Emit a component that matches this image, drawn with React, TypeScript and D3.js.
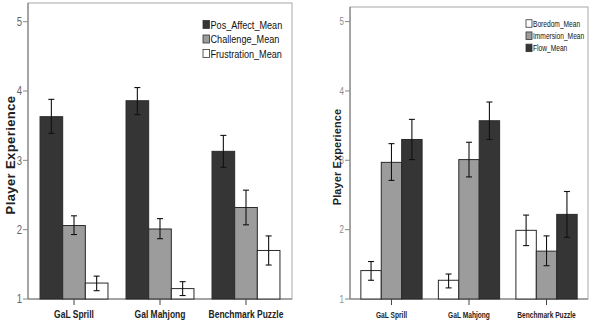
import * as d3 from "d3";
import type { ReactNode } from "react";

const games = ["GaL Sprill", "Gal Mahjong", "Benchmark Puzzle"];
const gamesRight = ["GaL Sprill", "GaL Mahjong", "Benchmark Puzzle"];

// left panel: affect / challenge / frustration
const leftSeries = ["Pos_Affect_Mean", "Challenge_Mean", "Frustration_Mean"];
const posAffect = [3.63, 3.86, 3.13];
const posAffectLo = [3.39, 3.66, 2.9];
const posAffectHi = [3.88, 4.05, 3.36];
const challenge = [2.06, 2.01, 2.32];
const challengeLo = [1.93, 1.87, 2.07];
const challengeHi = [2.2, 2.16, 2.57];
const frustration = [1.23, 1.15, 1.7];
const frustrationLo = [1.12, 1.05, 1.49];
const frustrationHi = [1.33, 1.25, 1.91];

// right panel: boredom / immersion / flow
const rightSeries = ["Boredom_Mean", "Immersion_Mean", "Flow_Mean"];
const boredom = [1.41, 1.27, 1.99];
const boredomLo = [1.27, 1.16, 1.77];
const boredomHi = [1.54, 1.36, 2.21];
const immersion = [2.97, 3.01, 1.69];
const immersionLo = [2.71, 2.76, 1.48];
const immersionHi = [3.24, 3.26, 1.91];
const flow = [3.3, 3.57, 2.22];
const flowLo = [3.01, 3.3, 1.89];
const flowHi = [3.59, 3.84, 2.55];

const yTicks = [1, 2, 3, 4, 5];

const DARK = "#353535";
const GREY = "#9c9c9c";
const WHITE = "#ffffff";

const sans = "'Liberation Sans', Arial, sans-serif";
const SQUEEZE = 0.8; // no condensed face installed, so squeeze Liberation Sans

interface NarrowProps {
  x: number;
  y: number;
  size: number;
  anchor?: "start" | "middle" | "end";
  bold?: boolean;
  fill?: string;
  dy?: string;
  children: ReactNode;
}

function NarrowText({ x, y, size, anchor = "start", bold, fill = "#111", dy, children }: NarrowProps) {
  return (
    <text
      transform={`translate(${x},${y}) scale(${SQUEEZE},1)`}
      dy={dy}
      textAnchor={anchor}
      fontSize={size}
      fontWeight={bold ? "bold" : "normal"}
      fill={fill}
      fontFamily={sans}
    >
      {children}
    </text>
  );
}

interface Series {
  name: string;
  fill: string;
  mean: number[];
  lo: number[];
  hi: number[];
}

interface PanelProps {
  cats: string[];
  series: Series[];
  left: number;
  right: number;
  top: number;
  yMax: number;
  tickFont: number;
  tickColor: string;
  catFont: number;
  titleFont: number;
  titleX: number;
  titleSpacing: number;
  legendX: number;
  legendY: number;
  legendStep: number;
  legendFont: number;
  swatchW: number;
  swatchH: number;
  capW: number;
}

function Panel(p: PanelProps) {
  const bottom = 299;
  const y = d3.scaleLinear().domain([1, p.yMax]).range([bottom, p.top]);
  const x0 = d3.scaleBand<string>().domain(p.cats).range([p.left, p.right]).paddingInner(0.21).paddingOuter(0.14);
  const x1 = d3.scaleBand<string>().domain(p.series.map((s) => s.name)).range([0, x0.bandwidth()]);

  return (
    <g>
      {/* frame */}
      <rect x={p.left} y={p.top} width={p.right - p.left} height={bottom - p.top} fill="none" stroke="#a8a8a8" strokeWidth={1} />
      <line x1={p.left} x2={p.left} y1={p.top} y2={bottom} stroke="#777" />
      <line x1={p.left} x2={p.right} y1={bottom} y2={bottom} stroke="#777" />

      {/* y axis */}
      {yTicks.map((t) => (
        <g key={t}>
          <line x1={p.left - 5} x2={p.left} y1={y(t)} y2={y(t)} stroke="#888" />
          <NarrowText x={p.left - 6} y={y(t)} dy="0.36em" anchor="end" size={p.tickFont} fill={p.tickColor}>
            {t}
          </NarrowText>
        </g>
      ))}
      <text
        transform={`translate(${p.titleX},${(p.top + bottom) / 2 + 4}) rotate(-90)`}
        textAnchor="middle"
        fontSize={p.titleFont}
        fontWeight="bold"
        letterSpacing={p.titleSpacing}
        fill="#222"
        fontFamily={sans}
      >
        Player Experience
      </text>

      {/* bars */}
      {p.cats.map((c, i) => (
        <g key={c} transform={`translate(${x0(c)},0)`}>
          {p.series.map((s) => (
            <rect
              key={s.name}
              x={x1(s.name)}
              y={y(s.mean[i])}
              width={x1.bandwidth()}
              height={bottom - y(s.mean[i])}
              fill={s.fill}
              stroke="#2a2a2a"
              strokeWidth={1}
            />
          ))}
          {p.series.map((s) => {
            const cx = (x1(s.name) ?? 0) + x1.bandwidth() / 2;
            return (
              <g key={s.name + "-err"} stroke="#111" strokeWidth={1.1}>
                <line x1={cx} x2={cx} y1={y(s.lo[i])} y2={y(s.hi[i])} />
                <line x1={cx - p.capW / 2} x2={cx + p.capW / 2} y1={y(s.lo[i])} y2={y(s.lo[i])} />
                <line x1={cx - p.capW / 2} x2={cx + p.capW / 2} y1={y(s.hi[i])} y2={y(s.hi[i])} />
              </g>
            );
          })}
        </g>
      ))}

      {/* x axis */}
      {p.cats.map((c) => {
        const cx = (x0(c) ?? 0) + x0.bandwidth() / 2;
        return (
          <g key={c + "-tick"}>
            <line x1={cx} x2={cx} y1={bottom} y2={bottom + 6} stroke="#444" />
            <NarrowText x={cx} y={bottom + 19} anchor="middle" size={p.catFont} bold fill="#222">
              {c}
            </NarrowText>
          </g>
        );
      })}

      {/* legend */}
      {p.series.map((s, i) => {
        const ly = p.legendY + i * p.legendStep;
        return (
          <g key={s.name + "-leg"}>
            <rect x={p.legendX} y={ly - p.swatchH / 2} width={p.swatchW} height={p.swatchH} fill={s.fill} stroke="#333" strokeWidth={0.8} />
            <NarrowText x={p.legendX + p.swatchW + 1} y={ly} dy="0.36em" size={p.legendFont}>
              {s.name}
            </NarrowText>
          </g>
        );
      })}
    </g>
  );
}

export default function App() {
  const leftData: Series[] = [
    { name: leftSeries[0], fill: DARK, mean: posAffect, lo: posAffectLo, hi: posAffectHi },
    { name: leftSeries[1], fill: GREY, mean: challenge, lo: challengeLo, hi: challengeHi },
    { name: leftSeries[2], fill: WHITE, mean: frustration, lo: frustrationLo, hi: frustrationHi },
  ];
  const rightData: Series[] = [
    { name: rightSeries[0], fill: WHITE, mean: boredom, lo: boredomLo, hi: boredomHi },
    { name: rightSeries[1], fill: GREY, mean: immersion, lo: immersionLo, hi: immersionHi },
    { name: rightSeries[2], fill: DARK, mean: flow, lo: flowLo, hi: flowHi },
  ];

  return (
    <div style={{ position: "fixed", left: 0, top: 0 }}>
      <svg width={594} height={331} style={{ display: "block", background: "#fff" }}>
        <Panel
          cats={games}
          series={leftData}
          left={28}
          right={292}
          top={3}
          yMax={5.27}
          tickFont={12}
          tickColor="#666"
          catFont={10.6}
          titleFont={13}
          titleX={15}
          titleSpacing={0.4}
          legendX={203}
          legendY={24.5}
          legendStep={14.5}
          legendFont={11.4}
          swatchW={6.5}
          swatchH={8}
          capW={6}
        />
        <Panel
          cats={gamesRight}
          series={rightData}
          left={350}
          right={588}
          top={7}
          yMax={5.21}
          tickFont={10}
          tickColor="#8a8a8a"
          catFont={8.3}
          titleFont={11}
          titleX={341}
          titleSpacing={0.1}
          legendX={526}
          legendY={23.5}
          legendStep={12.2}
          legendFont={8.3}
          swatchW={6}
          swatchH={7.5}
          capW={6}
        />
      </svg>
    </div>
  );
}
